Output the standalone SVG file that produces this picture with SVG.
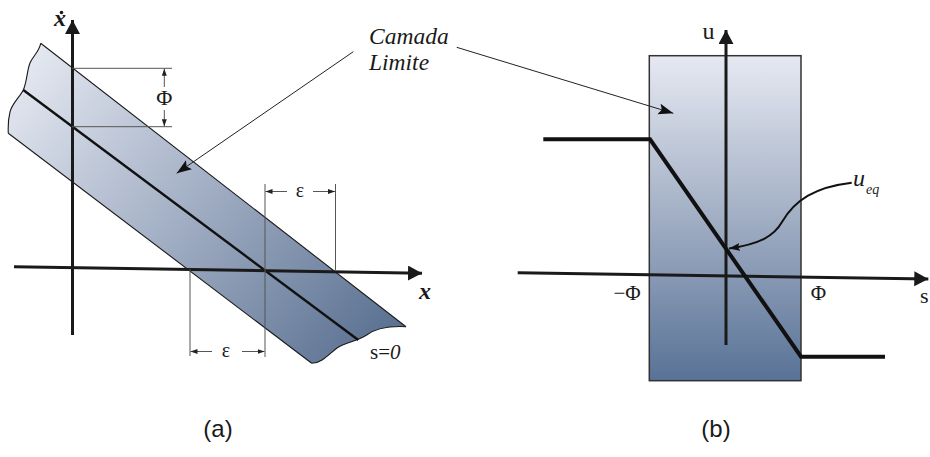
<svg xmlns="http://www.w3.org/2000/svg" width="930" height="457" viewBox="0 0 930 457">
<defs>
<linearGradient id="bandGrad" gradientUnits="userSpaceOnUse" x1="20" y1="50" x2="390" y2="360">
<stop offset="0" stop-color="#e8ebf3"/>
<stop offset="0.45" stop-color="#a6b2c7"/>
<stop offset="1" stop-color="#566d8e"/>
</linearGradient>
<linearGradient id="rectGrad" gradientUnits="userSpaceOnUse" x1="0" y1="56" x2="0" y2="381">
<stop offset="0" stop-color="#e6e9f2"/>
<stop offset="0.45" stop-color="#a8b4c8"/>
<stop offset="1" stop-color="#587296"/>
</linearGradient>
<marker id="axisArrow" markerUnits="userSpaceOnUse" markerWidth="16" markerHeight="16" refX="14" refY="7.5" orient="auto">
<path d="M0,0 L14,7.5 L0,15 z" fill="#1a1a1a"/>
</marker>
<marker id="dimArrow" markerUnits="userSpaceOnUse" markerWidth="8" markerHeight="6" refX="7" refY="2.5" orient="auto">
<path d="M0,0 L7,2.5 L0,5 z" fill="#222"/>
</marker>
<marker id="calloutArrow" markerUnits="userSpaceOnUse" markerWidth="16" markerHeight="12" refX="15" refY="5.5" orient="auto">
<path d="M0,0 L15,5.5 L0,11 L3,5.5 z" fill="#111"/>
</marker>
<marker id="smallArrow" markerUnits="userSpaceOnUse" markerWidth="12" markerHeight="9" refX="11" refY="4" orient="auto">
<path d="M0,0 L11,4 L0,8 L2,4 z" fill="#111"/>
</marker>
</defs>
<style>
.serif{font-family:"Liberation Serif","Times New Roman",serif;fill:#1a1a1a}
.it{font-style:italic}
.sans{font-family:"Liberation Sans",Arial,sans-serif;fill:#1a1a1a}
.axis{stroke:#1a1a1a;stroke-width:3;fill:none}
.dim{stroke:#555;stroke-width:1;fill:none}
.edge{stroke:#1a1a1a;stroke-width:1.1;fill:none}
.callout{stroke:#222;stroke-width:1;fill:none}
</style>

<!-- Panel (a) -->
<g id="band">
<path d="M40.7,43.3 L406,326.7 C392,326 376,328 366.7,335 C356,342 346,342 337,348 C329,354 322,363 311.7,363.3 L8.3,133.3 C8,127 8,120 10,112 C12,103 20,97 23.3,90 C27,82 27,70 30,63 C33,56 39,52 40.7,43.3 Z" fill="url(#bandGrad)"/>
<path class="edge" d="M40.7,43.3 L406,326.7 M311.7,363.3 L8.3,133.3"/>
<path class="edge" stroke-width="0.8" d="M406,326.7 C392,326 376,328 366.7,335 C356,342 346,342 337,348 C329,354 322,363 311.7,363.3 M8.3,133.3 C8,127 8,120 10,112 C12,103 20,97 23.3,90 C27,82 27,70 30,63 C33,56 39,52 40.7,43.3"/>
<line x1="23.3" y1="90" x2="358.3" y2="340" stroke="#111" stroke-width="2.4"/>
</g>

<g id="axes-a">
<line class="axis" x1="72.5" y1="335" x2="72.5" y2="20" marker-end="url(#axisArrow)"/>
<line class="axis" x1="14" y1="266.7" x2="422" y2="273.3" marker-end="url(#axisArrow)"/>
<text class="serif it" x="54" y="26" font-size="24" font-weight="bold">x</text>
<circle cx="61.5" cy="12.5" r="1.8" fill="#1a1a1a"/>
<text class="serif it" x="419" y="299" font-size="24" font-weight="bold">x</text>
</g>

<g id="dim-phi">
<line class="dim" x1="72" y1="68.3" x2="172" y2="68.3"/>
<line class="dim" x1="72" y1="126.7" x2="172" y2="126.7"/>
<line class="dim" x1="164.3" y1="87" x2="164.3" y2="68.8" marker-end="url(#dimArrow)"/>
<line class="dim" x1="164.3" y1="110" x2="164.3" y2="126.2" marker-end="url(#dimArrow)"/>
<text class="serif" x="164.3" y="105" font-size="22" text-anchor="middle">Φ</text>
</g>

<g id="dim-eps-top">
<line class="dim" x1="265" y1="184" x2="265" y2="357"/>
<line class="dim" x1="335.5" y1="184" x2="335.5" y2="270"/>
<line class="dim" x1="287" y1="191.5" x2="265.5" y2="191.5" marker-end="url(#dimArrow)"/>
<line class="dim" x1="313" y1="191.5" x2="335" y2="191.5" marker-end="url(#dimArrow)"/>
<text class="serif" x="300" y="197" font-size="20" text-anchor="middle">ε</text>
</g>

<g id="dim-eps-bottom">
<line class="dim" x1="190" y1="269" x2="190" y2="356"/>
<line class="dim" x1="212" y1="351.5" x2="190.5" y2="351.5" marker-end="url(#dimArrow)"/>
<line class="dim" x1="242" y1="351.5" x2="264.5" y2="351.5" marker-end="url(#dimArrow)"/>
<text class="serif" x="226" y="357" font-size="20" text-anchor="middle">ε</text>
</g>

<g id="label-s0">
<text class="serif" x="370" y="358.5" font-size="21">s=<tspan class="it">0</tspan></text>
</g>

<g id="label-camada">
<text class="serif it" x="369" y="44" font-size="23.5">Camada</text>
<text class="serif it" x="369" y="70" font-size="23.5">Limite</text>
</g>

<!-- Panel (b) -->
<g id="boundary-rect">
<rect x="649.3" y="55.7" width="151.7" height="325" fill="url(#rectGrad)" stroke="#333" stroke-width="1.5"/>
</g>

<g id="axes-b">
<line class="axis" stroke-width="3.5" x1="726" y1="345" x2="726" y2="30" marker-end="url(#axisArrow)"/>
<line class="axis" stroke-width="3.5" x1="517.7" y1="272.7" x2="928.3" y2="279" marker-end="url(#axisArrow)"/>
<text class="serif" x="702.5" y="38.5" font-size="24">u</text>
<text class="serif" x="920" y="303" font-size="22">s</text>
<text class="serif" x="627" y="300" font-size="21" text-anchor="middle">−Φ</text>
<text class="serif" x="818.5" y="300" font-size="21" text-anchor="middle">Φ</text>
</g>

<g id="control-law">
<polyline points="543.3,139.3 650,139.3 801,356.7 885,356.7" fill="none" stroke="#111" stroke-width="4"/>
</g>

<g id="label-ueq">
<text class="serif it" x="853" y="186" font-size="24">u</text>
<text class="serif it" x="866" y="193.5" font-size="14">eq</text>
</g>

<g id="connectors">
<line class="callout" x1="353.3" y1="51.7" x2="176.7" y2="173.3" marker-end="url(#calloutArrow)"/>
<line class="callout" x1="456.7" y1="47.3" x2="673.3" y2="113.3" marker-end="url(#calloutArrow)"/>
<path d="M851.7,182.7 C815,187 795,200 782,222 C774,236 760,244 729,248.5" stroke="#111" stroke-width="2" fill="none" marker-end="url(#smallArrow)"/>
</g>

<g id="captions">
<text class="sans" x="218" y="436.5" font-size="24" text-anchor="middle">(a)</text>
<text class="sans" x="716" y="436.5" font-size="24" text-anchor="middle">(b)</text>
</g>
</svg>
